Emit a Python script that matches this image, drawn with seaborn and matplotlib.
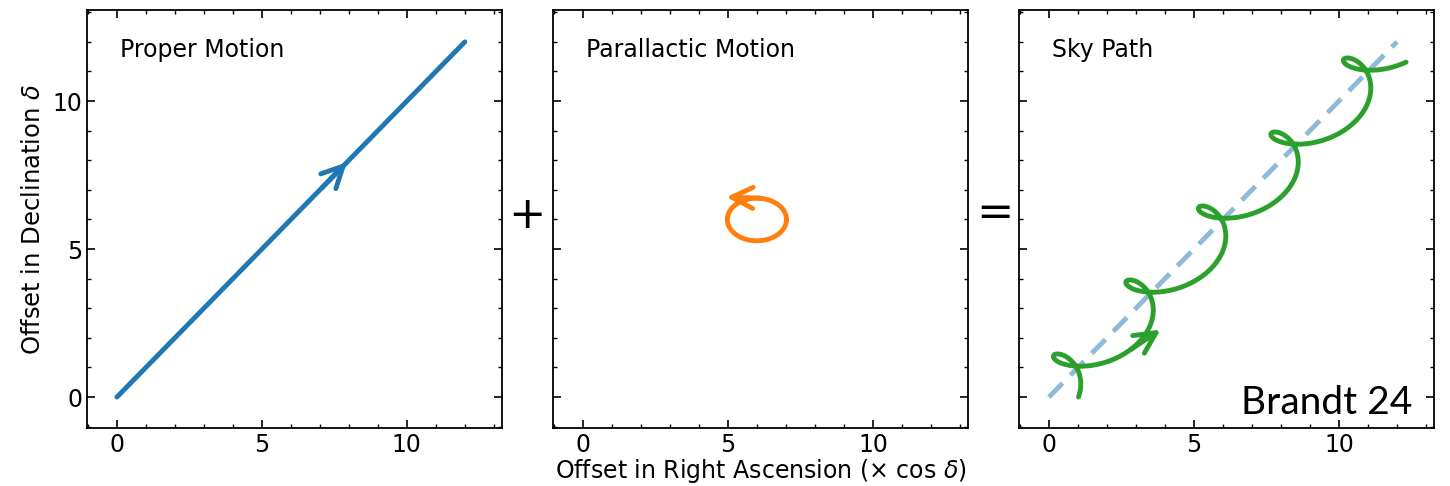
import numpy as np
import pandas as pd
import matplotlib.pyplot as plt
import seaborn as sns
from matplotlib.ticker import MultipleLocator

## Values

# proper motion: straight track from start to end (offset units)
pm_start = [0.0, 0.0]
pm_end = [12.0, 12.0]
pm_arrow_tip = [8.0, 8.0]

# parallactic ellipse: centre, semi-axes (RA, Dec)
plx_centre = [6.0, 6.0]
plx_semi_axes = [1.02, 0.72]
plx_arrow_tip = [4.85, 6.76]

# sky path: proper motion per year, years covered, arrow position
pm_rate = 2.5
n_years = 4.8
sky_arrow_year = 0.85
sky_arrow_tip = [3.93, 2.33]

panel_titles = ["Proper Motion", "Parallactic Motion", "Sky Path"]
tick_values = [0, 5, 10]


def ParallaxEllipse(t):
    # one full loop per year, counter-clockwise, starting at the east point
    ang = 2 * np.pi * t
    return plx_semi_axes[0] * np.cos(ang), plx_semi_axes[1] * np.sin(ang)


sns.set_style("ticks")
plt.rcParams['font.family'] = ['DejaVu Sans']
plt.rcParams['text.color'] = 'black'
plt.rcParams['axes.labelcolor'] = 'black'
plt.rcParams['xtick.color'] = 'black'
plt.rcParams['ytick.color'] = 'black'

fig, axes = plt.subplots(1, 3, figsize=(14.5, 4.86), dpi=100, sharex=True, sharey=True)
fig.subplots_adjust(left=0.06, right=0.989, top=0.979, bottom=0.119, wspace=0.123)

arrowKw = dict(arrowstyle='->', lw=3.5, mutation_scale=38)

# Panel 1 - proper motion
dfPM = pd.DataFrame({'x': [pm_start[0], pm_end[0]], 'y': [pm_start[1], pm_end[1]]})
sns.lineplot(data=dfPM, x='x', y='y', ax=axes[0], color='tab:blue', lw=3.5, sort=False, estimator=None)
axes[0].annotate("", xy=pm_arrow_tip, xytext=(pm_arrow_tip[0] - 1, pm_arrow_tip[1] - 1),
                 arrowprops=dict(color='tab:blue', **arrowKw))

# Panel 2 - parallactic ellipse
tt = np.linspace(0, 1, 300)
ex, ey = ParallaxEllipse(tt)
dfPlx = pd.DataFrame({'x': plx_centre[0] + ex, 'y': plx_centre[1] + ey})
sns.lineplot(data=dfPlx, x='x', y='y', ax=axes[1], color='tab:orange', lw=3.5, sort=False, estimator=None)
axes[1].annotate("", xy=plx_arrow_tip, xytext=(plx_centre[0] + 0.2, plx_centre[1] + plx_semi_axes[1]),
                 arrowprops=dict(color='tab:orange', **arrowKw))

# Panel 3 - sky path = proper motion + parallax
tt = np.linspace(0, n_years, 1000)
ex, ey = ParallaxEllipse(tt)
dfSky = pd.DataFrame({'x': pm_rate * tt + ex, 'y': pm_rate * tt + ey})
sns.lineplot(data=dfPM, x='x', y='y', ax=axes[2], color='tab:blue', alpha=0.5, lw=3.5,
             linestyle=(0, (4.0, 2.3)), sort=False, estimator=None)
sns.lineplot(data=dfSky, x='x', y='y', ax=axes[2], color='tab:green', lw=3.5, sort=False, estimator=None)
ax0, ay0 = ParallaxEllipse(sky_arrow_year)
axes[2].annotate("", xy=sky_arrow_tip,
                 xytext=(pm_rate * sky_arrow_year + ax0, pm_rate * sky_arrow_year + ay0),
                 arrowprops=dict(color='tab:green', **arrowKw))

for ax, sTitle in zip(axes, panel_titles):
    ax.text(0.08, 0.905, sTitle, transform=ax.transAxes, fontsize=17, va='center', ha='left')
    ax.set_xlim(-1.03, 13.28)
    ax.set_ylim(-1.05, 13.07)
    ax.set_xticks(tick_values)
    ax.set_yticks(tick_values)
    ax.xaxis.set_minor_locator(MultipleLocator(1))
    ax.yaxis.set_minor_locator(MultipleLocator(1))
    ax.tick_params(which='both', direction='in', top=True, right=True, labelsize=17)
    ax.tick_params(which='major', length=6, width=1.2)
    ax.tick_params(which='minor', length=3, width=1.0)
    for sp in ax.spines.values():
        sp.set_linewidth(1.3)
        sp.set_color('black')
    ax.set_xlabel("")
    ax.set_ylabel("")

axes[0].set_ylabel(r"Offset in Declination $\delta$", fontsize=17.5, labelpad=5)
axes[1].set_xlabel(r"Offset in Right Ascension ($\times$ cos $\delta$)", fontsize=17, labelpad=0)

axes[2].text(0.947, 0.035, "Brandt 24", transform=axes[2].transAxes, fontsize=28,
             ha='right', va='baseline', family=['Lato', 'DejaVu Sans'])

fig.text(527 / 1450, 1 - 215 / 486, "+", fontsize=32, ha='center', va='center')
fig.text(995 / 1450, 1 - 213 / 486, "=", fontsize=32, ha='center', va='center')

plt.savefig("out.png", dpi=100)
